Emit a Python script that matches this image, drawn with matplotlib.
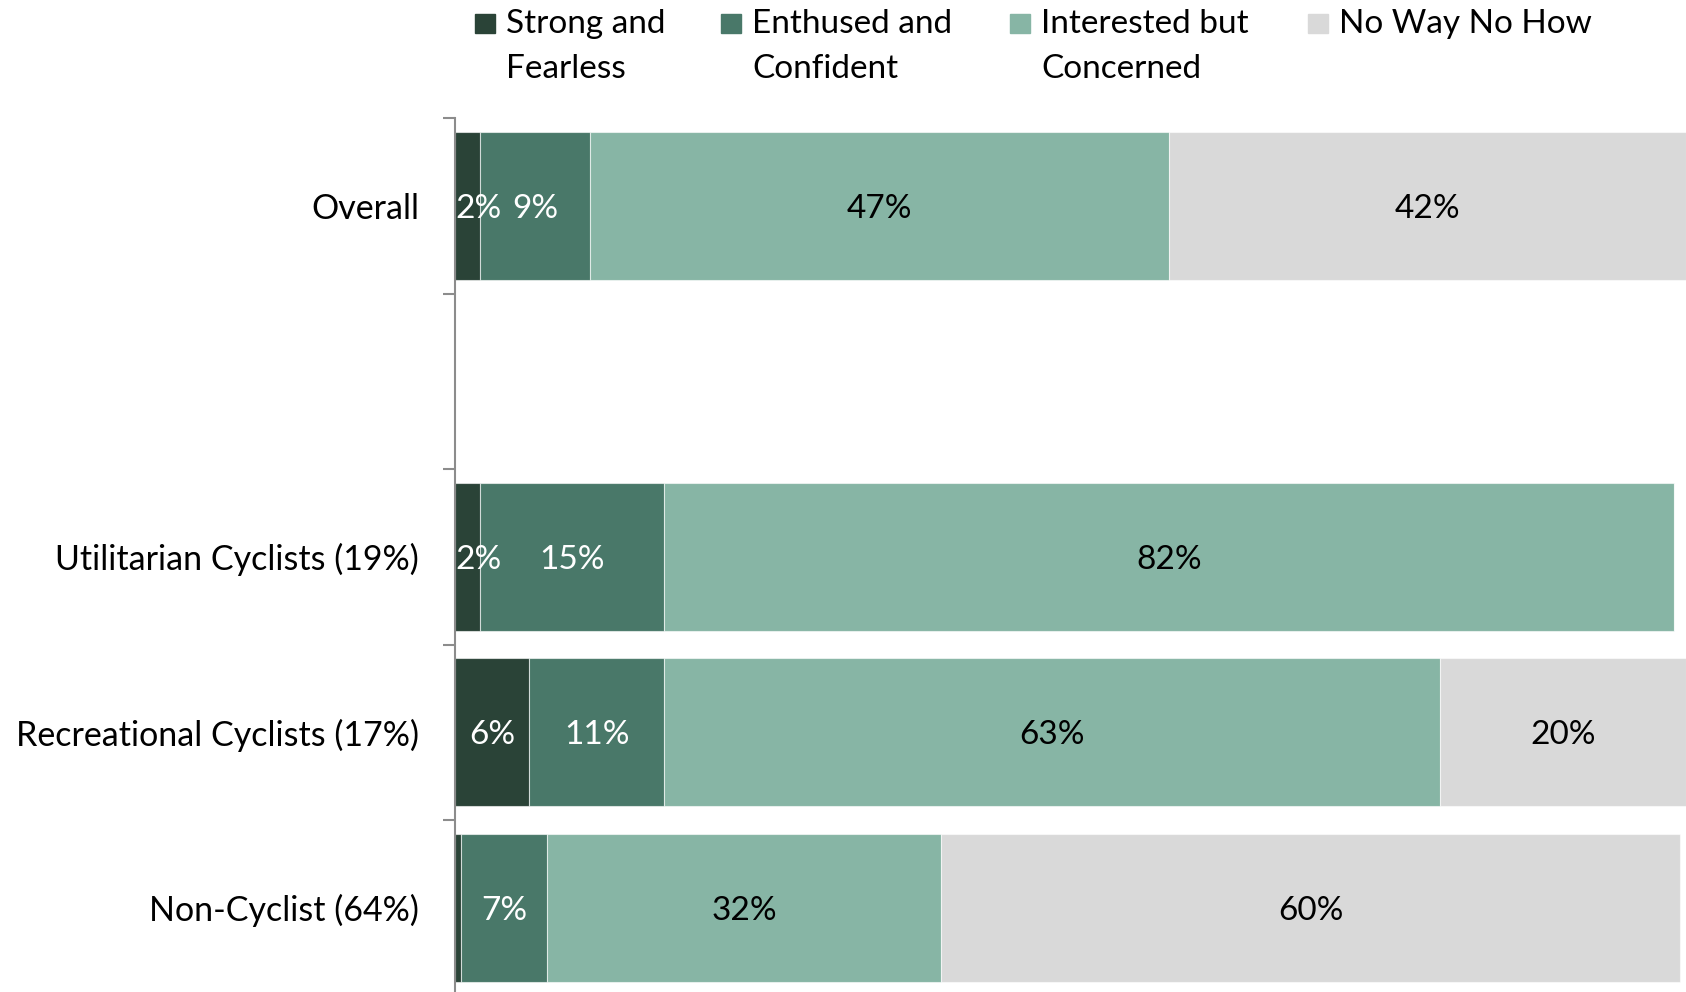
import matplotlib.pyplot as plt
from matplotlib.patches import Rectangle
import numpy as np

# groupes (la ligne vide sépare "Overall" des sous-groupes)
groupes = ['Overall', '', 'Utilitarian Cyclists (19%)',
           'Recreational Cyclists (17%)', 'Non-Cyclist (64%)']
types = ['Strong and\nFearless', 'Enthused and\nConfident',
         'Interested but\nConcerned', 'No Way No How']
strong = [2, 0, 2, 6, 0.5]
enthused = [9, 0, 15, 11, 7]
interested = [47, 0, 82, 63, 32]
no_way = [42, 0, 0, 20, 60]

couleurs = ['#2a4337', '#497869', '#87b5a5', '#d9d9d9']
couleurs_texte = ['white', 'white', 'black', 'black']

plt.rcParams['font.family'] = ['Lato', 'DejaVu Sans']

W, H = 1686, 992
fig = plt.figure(figsize=(W/100, H/100), dpi=100)
ax = fig.add_axes([455/W, -0.0035, 1 - 455/W, 0.8845])

y = np.arange(len(groupes))
gauche = np.zeros(len(groupes))
series = [strong, enthused, interested, no_way]
for valeurs, coul, coul_txt in zip(series, couleurs, couleurs_texte):
    valeurs = np.array(valeurs, dtype=float)
    ax.barh(y, valeurs, left=gauche, height=0.845, color=coul,
            edgecolor=(1, 1, 1, 0.6), linewidth=0.8)
    for yi, g, v in zip(y, gauche, valeurs):
        if v >= 1.5:
            # l'étiquette ne doit pas déborder à gauche de l'axe
            xt = max(g + v/2, 1.9)
            ax.text(xt, yi, '%d%%' % round(v), ha='center',
                    va='center_baseline', fontsize=24, color=coul_txt)
    gauche = gauche + valeurs

ax.set_xlim(0, 100)
ax.set_ylim(len(groupes) - 0.5, -0.5)
ax.set_yticks(y)
ax.set_yticklabels(groupes, fontsize=24.5)
ax.set_yticks(np.arange(len(groupes) + 1) - 0.5, minor=True)
ax.tick_params(axis='y', which='major', length=0, pad=26)
ax.tick_params(axis='y', which='minor', length=9, width=1.5, color='#8c8c8c')
ax.set_xticks([])
for cote in ['top', 'right', 'bottom']:
    ax.spines[cote].set_visible(False)
ax.spines['left'].set_color('#8c8c8c')
ax.spines['left'].set_linewidth(1.5)

# légende dessinée à la main : carré aligné sur la première ligne
x_carres = [475, 721, 1010, 1308]
for xc, nom, coul in zip(x_carres, types, couleurs):
    fig.patches.append(Rectangle((xc/W, 1 - 33/H), 20/W, 19/H,
                                 transform=fig.transFigure, color=coul))
    for i, ligne in enumerate(nom.split('\n')):
        fig.text((xc + 31)/W, 1 - (33 + 45*i)/H, ligne, fontsize=24,
                 va='baseline', ha='left')

fig.savefig('out.png', dpi=100)
